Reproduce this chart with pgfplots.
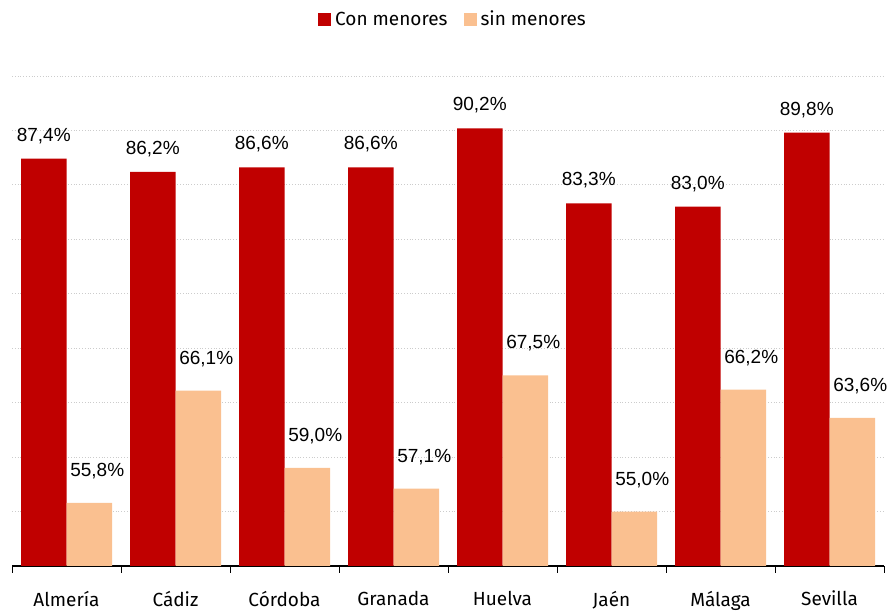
\documentclass[border=0pt]{standalone}
\usepackage{pgfplots}
\pgfplotsset{compat=1.18}
\usepackage{fontspec}
\setmainfont{Fira Sans}
\newfontfamily\numfont{Liberation Sans}
\definecolor{conred}{HTML}{C00000}
\definecolor{sinpeach}{HTML}{FAC090}
\begin{document}
\begin{tikzpicture}
\begin{axis}[
  scale only axis,
  width=436pt, height=245pt,
  ybar=0pt, bar width=22.75pt,
  xmin=-0.5, xmax=7.5,
  ymin=50, ymax=95,
  xtick={0,...,7},
  xticklabels={Almería,Cádiz,Córdoba,Granada,Huelva,Jaén,Málaga,Sevilla},
  minor xtick={-0.5,0.5,...,7.5},
  major tick length=0pt, minor tick length=3.5pt,
  xtick align=outside,
  axis lines*=left,
  y axis line style={draw=none},
  x axis line style={black, line width=0.75pt},
  every minor tick/.style={black, line width=0.5pt},
  ytick={50,55,...,95}, yticklabels={},
  ytick style={draw=none},
  ymajorgrids, major grid style={gray!40, densely dotted, line width=0.4pt},
  xticklabel style={font=\fontsize{9.5}{11}\selectfont, yshift=-9pt},
  /pgf/number format/assume math mode=true,
  clip=false,
  legend columns=2,
  legend style={at={(0.5,1)}, anchor=center, yshift=28pt, xshift=3pt, draw=none,
    font=\fontsize{9.5}{11}\selectfont,
    /tikz/every even column/.append style={column sep=6pt}},
  legend image code/.code={\fill[#1] (0pt,-3.2pt) rectangle (6.5pt,3.3pt);},
]
\addplot[fill=conred, draw=none,
  nodes near coords={\pgfmathprintnumber[fixed,fixed zerofill,precision=1,use comma]{\pgfplotspointmeta}\%},
  every node near coord/.append style={font=\numfont\fontsize{9.5}{10}\selectfont, black, yshift=4pt}]
  coordinates {(0,87.4) (1,86.2) (2,86.6) (3,86.6) (4,90.2) (5,83.3) (6,83.0) (7,89.8)};
\addplot[fill=sinpeach, draw=none,
  nodes near coords={\pgfmathprintnumber[fixed,fixed zerofill,precision=1,use comma]{\pgfplotspointmeta}\%},
  every node near coord/.append style={font=\numfont\fontsize{9.5}{10}\selectfont, black, yshift=8.5pt, xshift=4pt}]
  coordinates {(0,55.8) (1,66.1) (2,59.0) (3,57.1) (4,67.5) (5,55.0) (6,66.2) (7,63.6)};
\legend{Con menores, sin menores}
\coordinate (ll) at (rel axis cs:0,0);
\coordinate (ur) at (rel axis cs:1,1);
\end{axis}
\pgfresetboundingbox
\path ([shift={(-6pt,-23.5pt)}]ll) rectangle ([shift={(5.5pt,38pt)}]ur);
\end{tikzpicture}
\end{document}
